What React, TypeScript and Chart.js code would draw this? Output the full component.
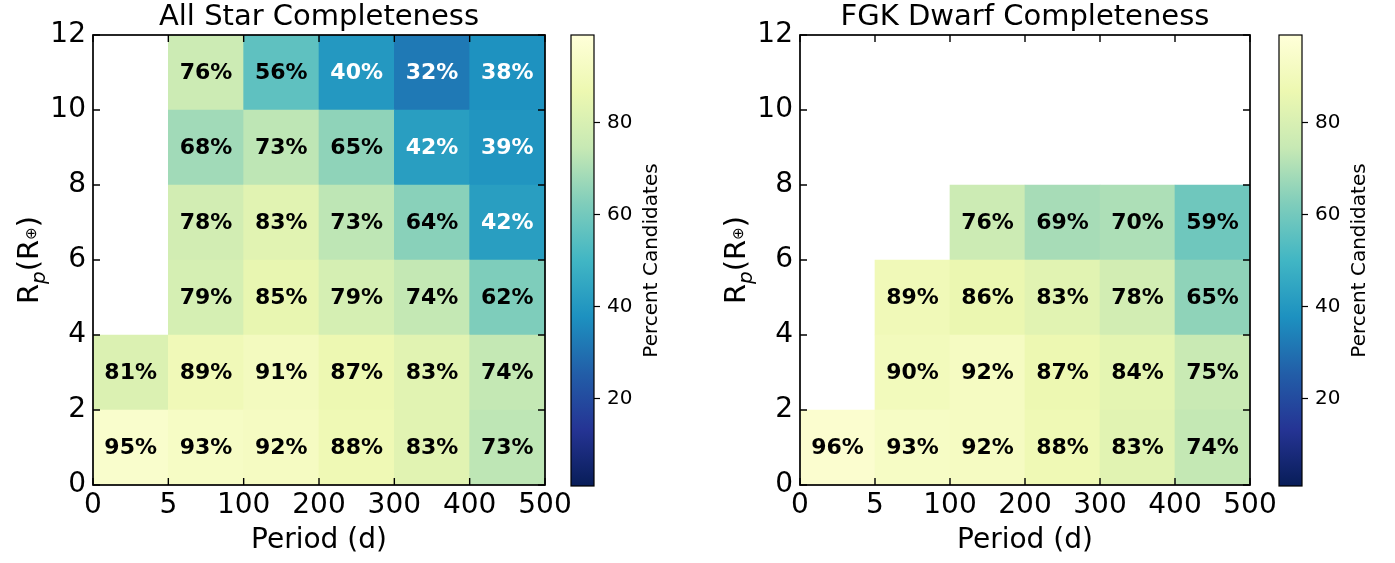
import React, { useEffect, useRef } from "react";
import { Chart, registerables } from "chart.js";

Chart.register(...registerables);

// ---------- data ----------
const periodBins = ["0-5", "5-100", "100-200", "200-300", "300-400", "400-500"];
const periodEdgeLabels = ["0", "5", "100", "200", "300", "400", "500"];
const radiusEdges = [0, 2, 4, 6, 8, 10, 12];
const radiusTicks = [0, 2, 4, 6, 8, 10, 12];

// All Star completeness (%), one array per radius bin (Rp 0-2 ... 10-12), by period bin
const allStar_r0_2 = [95, 93, 92, 88, 83, 73];
const allStar_r2_4 = [81, 89, 91, 87, 83, 74];
const allStar_r4_6 = [null, 79, 85, 79, 74, 62];
const allStar_r6_8 = [null, 78, 83, 73, 64, 42];
const allStar_r8_10 = [null, 68, 73, 65, 42, 39];
const allStar_r10_12 = [null, 76, 56, 40, 32, 38];

// FGK Dwarf completeness (%)
const fgk_r0_2 = [96, 93, 92, 88, 83, 74];
const fgk_r2_4 = [null, 90, 92, 87, 84, 75];
const fgk_r4_6 = [null, 89, 86, 83, 78, 65];
const fgk_r6_8 = [null, null, 76, 69, 70, 59];
const fgk_r8_10 = [null, null, null, null, null, null];
const fgk_r10_12 = [null, null, null, null, null, null];

const colorbarTicks = [20, 40, 60, 80];
const colorMin = 1;
const colorMax = 99;

// ---------- styling helpers ----------
const FONT = "'DejaVu Sans', 'Noto Sans', sans-serif";
const YLGNBU = ["#ffffd9", "#edf8b1", "#c7e9b4", "#7fcdbb", "#41b6c4", "#1d91c0", "#225ea8", "#253494", "#081d58"];

function hexToRgb(h: string) {
  return [parseInt(h.slice(1, 3), 16), parseInt(h.slice(3, 5), 16), parseInt(h.slice(5, 7), 16)];
}

function colorFor(v: number) {
  let t = (v - colorMin) / (colorMax - colorMin);
  t = Math.max(0, Math.min(1, t));
  const s = 1 - t; // reversed YlGnBu
  const n = YLGNBU.length - 1;
  const p = s * n;
  const i = Math.min(Math.floor(p), n - 1);
  const f = p - i;
  const a = hexToRgb(YLGNBU[i]);
  const b = hexToRgb(YLGNBU[i + 1]);
  const c = a.map((x, k) => Math.round(x + (b[k] - x) * f));
  return `rgb(${c[0]},${c[1]},${c[2]})`;
}

function drawRotatedLabel(
  ctx: CanvasRenderingContext2D,
  cx: number,
  cy: number,
  parts: { text: string; size: number; italic?: boolean; dy?: number }[]
) {
  ctx.save();
  ctx.translate(cx, cy);
  ctx.rotate(-Math.PI / 2);
  ctx.fillStyle = "#000";
  ctx.textBaseline = "alphabetic";
  ctx.textAlign = "left";
  const widths = parts.map((p) => {
    ctx.font = `${p.italic ? "italic " : ""}${p.size}px ${FONT}`;
    return ctx.measureText(p.text).width;
  });
  const total = widths.reduce((a, b) => a + b, 0);
  let x = -total / 2;
  const base = parts[0].size * 0.36;
  parts.forEach((p, i) => {
    ctx.font = `${p.italic ? "italic " : ""}${p.size}px ${FONT}`;
    ctx.fillText(p.text, x, base + (p.dy || 0));
    x += widths[i];
  });
  ctx.restore();
}

// ---------- heatmap panel ----------
type Rows = (number | null)[][];

function HeatmapPanel({ left, width, title, rows }: { left: number; width: number; title: string; rows: Rows }) {
  const ref = useRef<HTMLCanvasElement | null>(null);
  useEffect(() => {
    if (!ref.current) return;
    const datasets = rows.map((vals, r) => ({
      label: `${radiusEdges[r]}-${radiusEdges[r + 1]}`,
      data: vals.map((v) => (v == null ? null : [radiusEdges[r], radiusEdges[r + 1]])),
      backgroundColor: vals.map((v) => (v == null ? "rgba(0,0,0,0)" : colorFor(v))),
      borderWidth: 0,
      grouped: false,
      barPercentage: 1,
      categoryPercentage: 1,
    }));

    const cellText = {
      id: "cellText",
      afterDatasetsDraw(chart: any) {
        const ctx = chart.ctx;
        ctx.save();
        ctx.font = `bold 22px ${FONT}`;
        ctx.textAlign = "center";
        ctx.textBaseline = "middle";
        rows.forEach((vals, r) => {
          const meta = chart.getDatasetMeta(r);
          meta.data.forEach((el: any, j: number) => {
            const v = vals[j];
            if (v == null) return;
            const p = el.getProps(["x", "y", "base"], true);
            ctx.fillStyle = v < 50 ? "#ffffff" : "#000000";
            ctx.fillText(`${v}%`, p.x, (p.y + p.base) / 2 + 1);
          });
        });
        ctx.restore();
      },
    };

    const frame = {
      id: "frame",
      afterDraw(chart: any) {
        const ctx = chart.ctx;
        const a = chart.chartArea;
        const ys = chart.scales.y;
        const xs = chart.scales.xt;
        ctx.save();
        ctx.strokeStyle = "#000";
        ctx.lineWidth = 1.4;
        const L = 7;
        ctx.beginPath();
        radiusTicks.forEach((v) => {
          const y = ys.getPixelForValue(v);
          ctx.moveTo(a.left, y);
          ctx.lineTo(a.left + L, y);
          ctx.moveTo(a.right, y);
          ctx.lineTo(a.right - L, y);
        });
        periodEdgeLabels.forEach((_, i) => {
          const x = xs.getPixelForValue(i);
          ctx.moveTo(x, a.bottom);
          ctx.lineTo(x, a.bottom - L);
          ctx.moveTo(x, a.top);
          ctx.lineTo(x, a.top + L);
        });
        ctx.stroke();
        ctx.lineWidth = 1.7;
        ctx.strokeRect(a.left, a.top, a.right - a.left, a.bottom - a.top);
        // y-axis title: R_p (R_⊕)
        drawRotatedLabel(ctx, a.left - 65, (a.top + a.bottom) / 2, [
          { text: "R", size: 29 },
          { text: "p", size: 20, italic: true, dy: 7 },
          { text: "(R", size: 29 },
          { text: "⊕", size: 15, dy: -2 },
          { text: ")", size: 29 },
        ]);
        ctx.restore();
      },
    };

    const chart = new Chart(ref.current, {
      type: "bar",
      data: { labels: periodBins, datasets: datasets as any },
      options: {
        responsive: false,
        animation: false,
        devicePixelRatio: 1,
        layout: { padding: { left: 0, right: 40, top: 0, bottom: 0 } },
        plugins: {
          legend: { display: false },
          tooltip: { enabled: false },
          title: {
            display: true,
            text: title,
            color: "#000",
            font: { family: FONT, size: 29, weight: "normal", lineHeight: 1 },
            padding: { top: 2.5, bottom: 3.5 },
            fullSize: false,
          } as any,
        },
        scales: {
          x: { type: "category", display: false, stacked: false },
          xt: {
            type: "linear",
            position: "bottom",
            offset: false,
            min: 0,
            max: periodEdgeLabels.length - 1,
            afterBuildTicks: (s: any) => {
              s.ticks = periodEdgeLabels.map((_, i) => ({ value: i }));
            },
            ticks: {
              callback: (v: any) => periodEdgeLabels[v as number],
              color: "#000",
              font: { family: FONT, size: 28 },
              padding: 4,
              maxRotation: 0,
              autoSkip: false,
            },
            grid: { display: false, drawTicks: false, offset: false },
            border: { display: false },
            title: {
              display: true,
              text: "Period (d)",
              color: "#000",
              font: { family: FONT, size: 28 },
              padding: { top: 0, bottom: 5 },
            },
            afterFit: (s: any) => {
              s.height = 78;
            },
          } as any,
          y: {
            type: "linear",
            min: 0,
            max: 12,
            afterBuildTicks: (s: any) => {
              s.ticks = radiusTicks.map((v) => ({ value: v }));
            },
            ticks: { color: "#000", font: { family: FONT, size: 28 }, padding: 7 },
            grid: { display: false, drawTicks: false },
            border: { display: false },
            afterFit: (s: any) => {
              s.width = 93;
            },
          } as any,
        },
      },
      plugins: [cellText, frame],
    });
    return () => chart.destroy();
  }, []);
  return (
    <canvas
      ref={ref}
      width={width}
      height={563}
      style={{ position: "absolute", left, top: 0, width, height: 563 }}
    />
  );
}

// ---------- colorbar ----------
function ColorbarPanel({ left, width }: { left: number; width: number }) {
  const ref = useRef<HTMLCanvasElement | null>(null);
  useEffect(() => {
    if (!ref.current) return;
    const frame = {
      id: "cbframe",
      afterDraw(chart: any) {
        const ctx = chart.ctx;
        const a = chart.chartArea;
        ctx.save();
        ctx.strokeStyle = "#000";
        ctx.lineWidth = 1.2;
        ctx.strokeRect(a.left, a.top, a.right - a.left, a.bottom - a.top);
        drawRotatedLabel(ctx, a.right + 56, (a.top + a.bottom) / 2, [{ text: "Percent Candidates", size: 20 }]);
        ctx.restore();
      },
    };
    const chart = new Chart(ref.current, {
      type: "bar",
      data: {
        labels: ["scale"],
        datasets: [
          {
            data: [[colorMin, colorMax]] as any,
            barPercentage: 1,
            categoryPercentage: 1,
            borderWidth: 0,
            backgroundColor: (c: any) => {
              const ch = c.chart;
              const a = ch.chartArea;
              if (!a) return "rgba(0,0,0,0)";
              const g = ch.ctx.createLinearGradient(0, a.bottom, 0, a.top);
              const n = YLGNBU.length - 1;
              YLGNBU.slice().reverse().forEach((col, i) => g.addColorStop(i / n, col));
              return g;
            },
          },
        ],
      },
      options: {
        responsive: false,
        animation: false,
        devicePixelRatio: 1,
        layout: { padding: { left: 11, top: 35, bottom: 77, right: 0 } },
        plugins: { legend: { display: false }, tooltip: { enabled: false } },
        scales: {
          x: { display: false },
          y: {
            position: "right",
            min: colorMin,
            max: colorMax,
            afterBuildTicks: (s: any) => {
              s.ticks = colorbarTicks.map((v) => ({ value: v }));
            },
            ticks: { color: "#000", font: { family: FONT, size: 20 }, padding: 7 },
            grid: { drawOnChartArea: false, drawTicks: true, tickLength: 6, tickColor: "#000", tickWidth: 1.2 },
            border: { display: false },
            afterFit: (s: any) => {
              s.width = width - 11 - 23;
            },
          } as any,
        },
      },
      plugins: [frame],
    });
    return () => chart.destroy();
  }, []);
  return (
    <canvas
      ref={ref}
      width={width}
      height={563}
      style={{ position: "absolute", left, top: 0, width, height: 563 }}
    />
  );
}

export default function App() {
  const allStarRows: Rows = [allStar_r0_2, allStar_r2_4, allStar_r4_6, allStar_r6_8, allStar_r8_10, allStar_r10_12];
  const fgkRows: Rows = [fgk_r0_2, fgk_r2_4, fgk_r4_6, fgk_r6_8, fgk_r8_10, fgk_r10_12];
  return (
    <div style={{ position: "fixed", left: 0, top: 0, width: 1395, height: 563, background: "#fff", overflow: "hidden" }}>
      <HeatmapPanel left={0} width={585} title="All Star Completeness" rows={allStarRows} />
      <ColorbarPanel left={560} width={140} />
      <HeatmapPanel left={707} width={583} title="FGK Dwarf Completeness" rows={fgkRows} />
      <ColorbarPanel left={1268} width={127} />
    </div>
  );
}
